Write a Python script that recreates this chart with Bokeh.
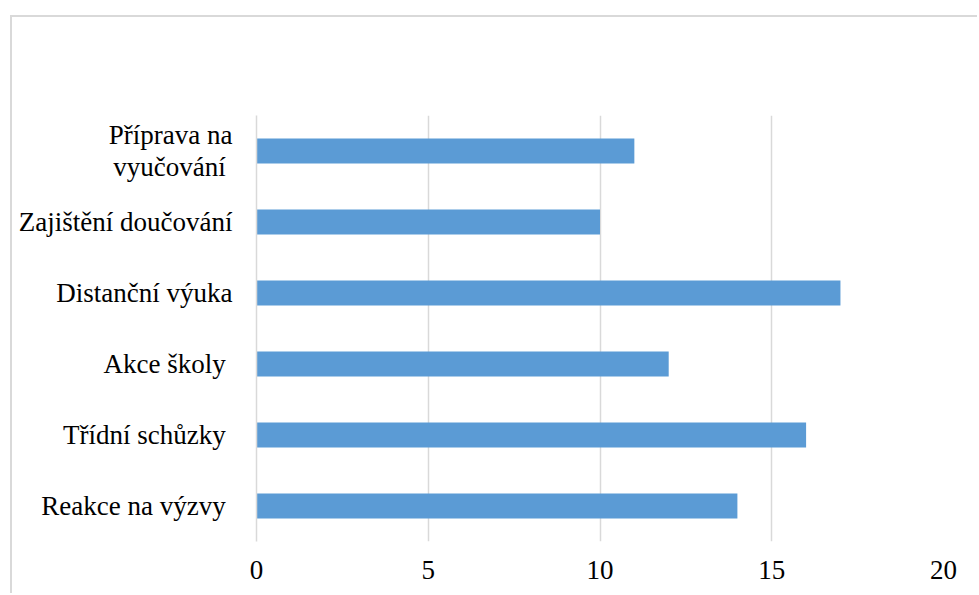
from bokeh.plotting import figure
from bokeh.models import FactorRange, Range1d, FixedTicker
from bokeh.embed import file_html
from bokeh.resources import INLINE

# Data (bottom to top)
categories = ["Reakce na výzvy ", "Třídní schůzky ", "Akce školy ",
              "Distanční výuka", "Zajištění doučování", "Příprava na\nvyučování "]
values = [14, 16, 12, 17, 10, 11]
x_ticks = [0, 5, 10, 15, 20]

FONT = "Liberation Serif"
GRID = "#d9d9d9"

p = figure(width=967, height=578,
           y_range=FactorRange(*categories), x_range=Range1d(0, 20),
           output_backend="svg", toolbar_location=None,
           min_border_left=244, min_border_right=36,
           min_border_top=98, min_border_bottom=54)
p.margin = (15, 0, 0, 10)
p.styles = {"border-top": "2px solid #d9d9d9", "border-left": "2px solid #d9d9d9"}

p.hbar(y=categories, right=values, left=0, height=0.355,
       fill_color="#5B9BD5", line_color=None)

p.outline_line_color = None
p.ygrid.grid_line_color = None
p.xgrid.grid_line_color = GRID
p.xgrid.grid_line_width = 1.5

p.xaxis.ticker = FixedTicker(ticks=x_ticks)
p.xaxis.axis_line_color = None
p.xaxis.major_tick_line_color = None
p.xaxis.minor_tick_line_color = None
p.xaxis.major_tick_out = 0
p.xaxis.major_label_standoff = 19

p.yaxis.axis_line_color = GRID
p.yaxis.axis_line_width = 1.5
p.yaxis.major_tick_line_color = None
p.yaxis.major_tick_out = 0
p.yaxis.major_label_standoff = 24
p.yaxis.major_label_text_line_height = 1.05

for ax in (p.xaxis[0], p.yaxis[0]):
    ax.major_label_text_font = FONT
    ax.major_label_text_font_size = "27px"
    ax.major_label_text_color = "#000000"

open("out.html", "w").write(file_html(p, INLINE))
